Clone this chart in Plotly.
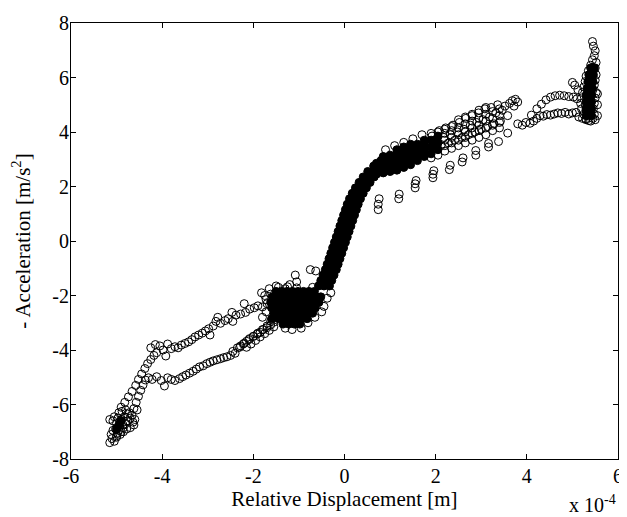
import plotly.graph_objects as go

# displacement in units of 1e-4 m, acceleration in m/s^2

blob_x = [-5.15, -5.10, -5.12, -5.05, -5.00, -4.98, -5.08, -5.02, -4.95, -4.90, -4.85, -5.15, -5.08, -5.00, -4.93,
          -4.86, -4.80, -4.75, -5.05, -4.97, -4.90, -4.83, -4.76, -4.70, -4.64, -4.95, -4.88, -4.80, -4.72, -4.66,
          -4.60, -5.00, -4.92, -4.85, -4.78, -4.70, -4.62, -4.55]
blob_y = [-7.40, -7.25, -7.10, -7.35, -7.20, -7.05, -6.95, -6.90, -6.95, -7.00, -6.85, -6.55, -6.60, -6.70, -6.80,
          -6.75, -6.70, -6.60, -6.45, -6.50, -6.55, -6.45, -6.35, -6.50, -6.65, -6.30, -6.25, -6.20, -6.30, -6.40,
          -6.55, -7.15, -7.10, -7.00, -6.90, -6.85, -6.75, -6.20]

upleft_x = [-4.90, -4.82, -4.74, -4.66, -4.58, -4.52, -4.45, -4.38, -4.32, -4.25, -4.18, -4.12, -4.25, -4.15, -4.05,
            -3.98, -3.92, -3.88, -3.80, -3.72, -3.65, -3.58, -3.50, -3.42, -3.35, -3.28, -3.20, -3.12, -3.05, -2.98,
            -2.95, -2.88, -2.82, -2.78, -2.72, -2.62, -2.55, -2.47, -2.45, -2.38, -2.28, -2.20, -2.17, -2.08, -1.98,
            -1.90, -1.82, -1.80, -1.72, -1.62, -1.50, -1.42, -1.30, -1.20, -1.08, -1.05, -0.75, -0.63]
upleft_y = [-6.10, -5.92, -5.72, -5.52, -5.30, -5.08, -4.88, -4.68, -4.50, -4.35, -4.20, -4.10, -3.92, -3.80, -3.85,
            -4.00, -4.22, -3.78, -3.95, -3.88, -3.92, -3.82, -3.76, -3.70, -3.62, -3.52, -3.45, -3.38, -3.30, -3.22,
            -3.45, -3.12, -2.95, -2.80, -3.02, -2.92, -2.85, -2.62, -2.95, -2.72, -2.68, -2.30, -2.62, -2.50, -2.45,
            -2.38, -1.90, -2.42, -2.15, -1.95, -1.65, -1.90, -1.75, -1.60, -1.25, -1.50, -1.05, -1.10]

lowleft_x = [-4.62, -4.57, -4.52, -4.47, -4.42, -4.37, -4.30, -4.22, -4.12, -4.02, -3.95, -3.88, -3.80, -3.72, -3.62,
             -3.55, -3.48, -3.40, -3.32, -3.25, -3.18, -3.10, -3.02, -2.95, -2.88, -2.80, -2.72, -2.65, -2.58, -2.50,
             -2.45, -2.40, -2.35, -2.28, -2.22, -2.15, -2.08, -2.00, -1.92, -1.85, -1.78, -1.70, -1.62, -1.55,
             -2.30, -2.20, -2.10, -2.00, -1.90, -1.80, -1.70, -2.15, -2.05, -1.95, -1.85, -1.75, -1.65, -1.55]
lowleft_y = [-6.15, -5.92, -5.70, -5.48, -5.28, -5.10, -5.02, -5.08, -4.98, -5.12, -5.32, -5.02, -5.08, -5.12, -5.05,
             -4.98, -4.92, -4.85, -4.78, -4.70, -4.62, -4.58, -4.50, -4.45, -4.40, -4.36, -4.32, -4.28, -4.25, -4.20,
             -4.05, -4.12, -3.92, -3.85, -3.78, -3.68, -3.58, -3.50, -3.42, -3.35, -3.25, -3.18, -3.08, -2.98,
             -3.90, -3.75, -3.62, -3.50, -3.38, -3.25, -3.12, -3.90, -3.78, -3.65, -3.52, -3.40, -3.28, -3.15]

# loose circles around the edge of the central blob
blobedge_x = [-1.75, -1.70, -1.72, -1.65, -1.45, -1.25, -0.95, -1.15, -1.30, -0.80, -0.65, -0.50, -0.45,
              -1.80, -1.62, -0.70, -0.55, -1.05, -0.38, -0.30]
blobedge_y = [-2.00, -2.30, -2.60, -1.75, -1.70, -1.68, -3.20, -3.25, -3.20, -3.00, -2.80, -2.60, -2.40,
              -2.80, -2.95, -1.70, -1.62, -1.72, -2.10, -1.90]

# densest part of the cloud (reads as solid black)
core_x = [-5.00, -4.95, -4.90,
          -1.50, -1.38, -1.26, -1.14, -1.02, -0.90, -0.78, -0.66,
          -1.58, -1.46, -1.34, -1.22, -1.10, -0.98, -0.86, -0.74, -0.62, -0.52,
          -1.62, -1.50, -1.38, -1.26, -1.14, -1.02, -0.90, -0.78, -0.66, -0.56,
          -1.60, -1.48, -1.36, -1.24, -1.12, -1.00, -0.88, -0.76, -0.64,
          -1.55, -1.42, -1.30, -1.18, -1.06, -0.94, -0.82, -0.70,
          -1.60, -1.45, -1.30, -1.18, -1.06, -0.94, -0.82,
          -1.35, -1.22, -1.10, -0.98,
          -0.57, -0.45, -0.33, -0.52, -0.40, -0.28, -0.47, -0.35, -0.23, -0.42, -0.30, -0.18,
          -0.38, -0.26, -0.14, -0.34, -0.22, -0.10, -0.30, -0.18, -0.06, -0.26, -0.14, -0.02,
          -0.22, -0.10, 0.02, -0.18, -0.06, 0.06, -0.14, -0.02, 0.10, -0.10, 0.02, 0.14,
          -0.06, 0.06, 0.18, -0.02, 0.10, 0.22, 0.02, 0.14, 0.26, 0.06, 0.18, 0.30,
          0.11, 0.23, 0.35, 0.17, 0.29, 0.41, 0.24, 0.36, 0.48, 0.32, 0.44, 0.56,
          0.41, 0.53, 0.65, 0.51, 0.63, 0.75, 0.64, 0.76, 0.88, 0.80, 0.92, 1.04,
          0.70, 0.70, 0.70, 0.85, 0.85, 0.85, 0.85, 1.00, 1.00, 1.00, 1.00,
          1.15, 1.15, 1.15, 1.15, 1.15, 1.30, 1.30, 1.30, 1.30, 1.30,
          1.45, 1.45, 1.45, 1.45, 1.45, 1.60, 1.60, 1.60, 1.60, 1.75, 1.75, 1.75, 1.75,
          1.90, 1.90, 1.90, 2.05, 2.05, 2.05,
          5.30, 5.42, 5.30, 5.42, 5.30, 5.42, 5.30, 5.42, 5.32, 5.44, 5.34, 5.45, 5.36, 5.46, 5.40, 5.48]
core_y = [-6.90, -6.75, -6.60,
          -1.85, -1.85, -1.85, -1.85, -1.85, -1.85, -1.85, -1.85,
          -2.05, -2.05, -2.05, -2.05, -2.05, -2.05, -2.05, -2.05, -2.05, -2.05,
          -2.25, -2.25, -2.25, -2.25, -2.25, -2.25, -2.25, -2.25, -2.25, -2.25,
          -2.45, -2.45, -2.45, -2.45, -2.45, -2.45, -2.45, -2.45, -2.45,
          -2.65, -2.65, -2.65, -2.65, -2.65, -2.65, -2.65, -2.65,
          -2.85, -2.85, -2.85, -2.85, -2.85, -2.85, -2.85,
          -3.05, -3.05, -3.05, -3.05,
          -1.65, -1.65, -1.65, -1.45, -1.45, -1.45, -1.25, -1.25, -1.25, -1.05, -1.05, -1.05,
          -0.85, -0.85, -0.85, -0.65, -0.65, -0.65, -0.45, -0.45, -0.45, -0.25, -0.25, -0.25,
          -0.05, -0.05, -0.05, 0.15, 0.15, 0.15, 0.35, 0.35, 0.35, 0.55, 0.55, 0.55,
          0.75, 0.75, 0.75, 0.95, 0.95, 0.95, 1.15, 1.15, 1.15, 1.35, 1.35, 1.35,
          1.55, 1.55, 1.55, 1.75, 1.75, 1.75, 1.95, 1.95, 1.95, 2.15, 2.15, 2.15,
          2.35, 2.35, 2.35, 2.55, 2.55, 2.55, 2.75, 2.75, 2.75, 2.95, 2.95, 2.95,
          2.45, 2.65, 2.85, 2.50, 2.70, 2.90, 3.10, 2.55, 2.75, 2.95, 3.15,
          2.60, 2.80, 3.00, 3.20, 3.35, 2.70, 2.90, 3.10, 3.30, 3.45,
          2.80, 3.00, 3.20, 3.40, 3.55, 2.95, 3.15, 3.35, 3.55, 3.10, 3.30, 3.50, 3.70,
          3.20, 3.45, 3.70, 3.35, 3.60, 3.85,
          4.60, 4.60, 4.85, 4.85, 5.10, 5.10, 5.35, 5.35, 5.60, 5.60, 5.85, 5.85, 6.10, 6.10, 6.35, 6.35]

upband_x = [0.90, 1.10, 1.30, 1.50, 1.70,
            1.85, 1.88, 1.92, 1.98, 2.02, 2.08, 2.12, 2.18, 2.22, 2.28, 2.32, 2.38, 2.42, 2.48, 2.52, 2.58,
            2.62, 2.66, 2.72, 2.76, 2.80, 2.86, 2.90, 2.94, 3.00, 3.04, 3.08, 3.14, 3.18, 3.22, 3.28, 3.32,
            3.36, 3.42, 3.46, 3.52, 3.58, 3.62, 3.68, 3.72, 3.75, 3.80,
            1.90, 1.90, 2.05, 2.05, 2.20, 2.20, 2.20, 2.20, 2.20, 2.35, 2.35, 2.35, 2.35, 2.35,
            2.50, 2.50, 2.50, 2.50, 2.50, 2.65, 2.65, 2.65, 2.65, 2.65, 2.80, 2.80, 2.80, 2.80, 2.80,
            2.95, 2.95, 2.95, 2.95, 2.95, 3.10, 3.10, 3.10, 3.10, 3.10, 3.25, 3.25, 3.25, 3.25,
            3.40, 3.40, 3.40, 3.40]
upband_y = [3.35, 3.50, 3.62, 3.75, 3.90,
            3.25, 3.55, 3.85, 3.40, 3.70, 4.05, 3.50, 3.80, 4.15, 3.60, 3.90, 4.25, 3.70, 4.00, 4.35, 3.80,
            4.10, 4.50, 3.90, 4.25, 4.60, 4.00, 4.35, 4.70, 4.10, 4.45, 4.85, 4.20, 4.55, 4.90, 4.30, 4.70,
            5.00, 4.40, 4.80, 4.95, 4.60, 5.05, 5.15, 4.95, 5.20, 5.10,
            3.05, 3.95, 3.15, 4.00, 3.30, 3.50, 3.70, 3.95, 4.10, 3.40, 3.60, 3.80, 4.05, 4.20,
            3.50, 3.70, 3.90, 4.15, 4.45, 3.60, 3.80, 4.00, 4.30, 4.55, 3.70, 3.95, 4.15, 4.40, 4.65,
            3.80, 4.05, 4.25, 4.50, 4.80, 3.90, 4.15, 4.40, 4.65, 4.90, 4.05, 4.25, 4.50, 4.75,
            4.15, 4.35, 4.60, 4.85]

stack_x = [0.74, 0.74, 0.76, 1.19, 1.20, 1.55, 1.55, 1.57, 1.94, 1.94, 1.96, 2.30, 2.32, 2.58, 2.60,
           2.88, 2.88, 3.16, 3.16, 3.38, 3.58]
stack_y = [1.15, 1.35, 1.55, 1.55, 1.72, 1.95, 2.10, 2.22, 2.32, 2.45, 2.58, 2.62, 2.78, 2.90, 3.05,
           3.15, 3.32, 3.45, 3.58, 3.65, 3.96]

right_x = [3.80, 3.90, 3.98, 4.07, 4.15, 4.22, 4.29, 4.36, 4.44, 4.52, 4.60, 4.68, 4.76, 4.84, 4.92,
           5.00, 5.08, 5.14, 5.22, 5.29, 5.36,
           4.10, 4.22, 4.32, 4.42, 4.52, 4.62, 4.72, 4.82, 4.92, 5.02, 5.10, 5.00, 5.05, 5.12]
right_y = [4.30, 4.25, 4.35, 4.32, 4.40, 4.50, 4.60, 4.58, 4.64, 4.62, 4.66, 4.70, 4.68, 4.72, 4.66,
           4.70, 4.72, 4.55, 4.50, 4.48, 4.42,
           4.62, 4.85, 5.02, 5.18, 5.28, 5.33, 5.35, 5.33, 5.30, 5.28, 5.22, 5.82, 5.72, 5.55]

column_x = [5.44, 5.46, 5.50, 5.48, 5.44, 5.52, 5.40, 5.50, 5.35, 5.45, 5.52, 5.30, 5.42, 5.50, 5.28,
            5.38, 5.48, 5.25, 5.35, 5.45, 5.52, 5.22, 5.32, 5.42, 5.50, 5.20, 5.30, 5.40, 5.48, 5.18,
            5.28, 5.38, 5.46, 5.20, 5.30, 5.40, 5.48, 5.25, 5.35, 5.45, 5.30, 5.40, 5.50, 5.55, 5.55, 5.55]
column_y = [7.32, 7.15, 6.98, 6.80, 6.65, 6.55, 6.45, 6.35, 6.25, 6.20, 6.10, 6.05, 6.00, 5.90, 5.85,
            5.80, 5.72, 5.65, 5.60, 5.55, 5.45, 5.45, 5.40, 5.35, 5.25, 5.25, 5.20, 5.15, 5.05, 5.05,
            5.00, 4.95, 4.85, 4.85, 4.80, 4.75, 4.65, 4.65, 4.60, 4.50, 4.45, 4.40, 4.45, 4.60, 5.00, 5.40]

x_ticks = [-6, -4, -2, 0, 2, 4, 6]
x_labels = ["-6", "-4", "-2", "0", "2", "4", "6"]
y_ticks = [-8, -6, -4, -2, 0, 2, 4, 6, 8]
y_labels = ["-8", "-6", "-4", "-2", "0", "2", "4", "6", "8"]

FONT = "Liberation Serif, Times New Roman, serif"

fig = go.Figure()

open_sets = [(blob_x, blob_y), (upleft_x, upleft_y), (lowleft_x, lowleft_y), (blobedge_x, blobedge_y),
             (upband_x, upband_y), (stack_x, stack_y), (right_x, right_y), (column_x, column_y)]
for xs, ys in open_sets:
    fig.add_trace(go.Scatter(x=xs, y=ys, mode='markers', showlegend=False,
                             marker=dict(symbol='circle-open', size=8, color='black', line=dict(width=1))))

fig.add_trace(go.Scatter(x=core_x, y=core_y, mode='markers', showlegend=False,
                         marker=dict(symbol='circle', size=8, color='black', line=dict(width=1, color='black'))))

axis_style = dict(showline=True, linecolor='black', linewidth=1, mirror='allticks', ticks='inside',
                  ticklen=5, tickcolor='black', showgrid=False, zeroline=False, ticklabeloverflow='allow',
                  tickfont=dict(family=FONT, size=20, color='black'))

fig.update_xaxes(range=[-6, 6], tickvals=x_ticks, ticktext=x_labels, ticklabelstandoff=-1,
                 title=dict(text='Relative Displacement [m]', font=dict(family=FONT, size=21, color='black'),
                            standoff=4), **axis_style)
fig.update_yaxes(range=[-8, 8], tickvals=y_ticks, ticktext=y_labels, ticklabelstandoff=-3,
                 title=dict(text='- Acceleration [m/s<sup>2</sup>]', font=dict(family=FONT, size=21, color='black'),
                            standoff=26), **axis_style)

fig.add_annotation(text='x 10<sup>-4</sup>', xref='paper', yref='paper', x=1.0, y=-0.104,
                   xanchor='right', yanchor='middle', showarrow=False,
                   font=dict(family=FONT, size=20, color='black'))

# the page body keeps an 8px margin, so the figure is sized to fit inside the window
fig.update_layout(width=619, height=509, margin=dict(l=54, r=4, t=8, b=58),
                  plot_bgcolor='white', paper_bgcolor='white')

fig.write_html("out.html")
